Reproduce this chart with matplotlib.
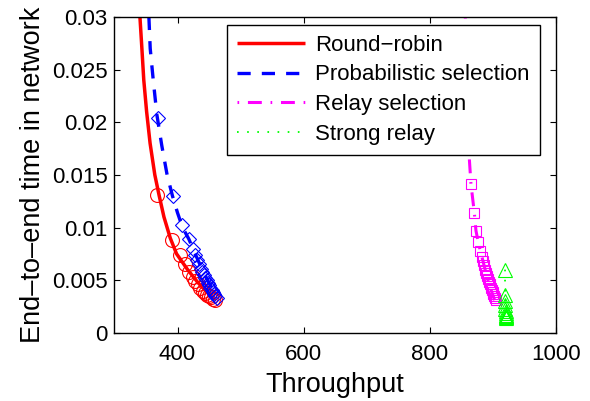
import matplotlib
matplotlib.use("Agg")
import matplotlib.pyplot as plt

plt.rcParams['font.family'] = ['Liberation Sans', 'DejaVu Sans']
plt.rcParams['lines.scale_dashes'] = False

# Round-robin
rr_line_x = [340.4, 343.5, 346.5, 351.0, 356.5, 364.0, 371.0, 378.5, 388.5, 398.5, 416.0, 432.0, 446.0, 459.0]
rr_line_y = [0.0300, 0.0270, 0.0240, 0.0210, 0.0180, 0.0150, 0.0130, 0.0110, 0.0090, 0.0075, 0.0060, 0.0048, 0.0039, 0.0031]
rr_mark_x = [368.0, 390.5, 403.7, 411.6, 418.5, 423.8, 428.0, 432.0, 436.0, 440.0, 444.0, 447.0, 450.0, 453.0, 456.0, 459.0]
rr_mark_y = [0.0131, 0.0088, 0.0074, 0.0065, 0.0058, 0.0053, 0.0049, 0.0046, 0.0043, 0.0040, 0.0038, 0.0036, 0.0035, 0.0034, 0.0032, 0.0031]

# Probabilistic selection
ps_line_x = [354.6, 356.7, 361.5, 367.3, 375.0, 383.5, 392.0, 400.0, 408.0, 418.0, 428.0, 440.0, 452.0, 462.0]
ps_line_y = [0.0300, 0.0270, 0.0240, 0.0207, 0.0178, 0.0150, 0.0130, 0.0114, 0.0100, 0.0089, 0.0075, 0.0059, 0.0045, 0.0033]
ps_mark_x = [369.4, 392.1, 406.4, 418.5, 423.8, 428.0, 431.2, 434.0, 437.0, 439.5, 442.0, 444.0, 446.0,
             448.0, 450.0, 452.0, 454.0, 456.0, 458.0, 460.0, 462.0]
ps_mark_y = [0.0204, 0.0130, 0.01025, 0.0089, 0.0080, 0.0074, 0.0069, 0.0065, 0.0061, 0.0058, 0.0055, 0.0052,
             0.0050, 0.0047, 0.0045, 0.0043, 0.0041, 0.0039, 0.0037, 0.0035, 0.0033]

# Relay selection
rs_line_x = [856.5, 860.0, 863.0, 865.5, 870.8, 873.4, 877.0, 880.3, 884.6, 890.0, 896.0, 903.0]
rs_line_y = [0.0300, 0.0220, 0.0164, 0.0141, 0.0114, 0.0097, 0.0086, 0.0078, 0.0068, 0.0055, 0.0043, 0.0031]
rs_mark_x = [865.5, 870.8, 873.4, 877.1, 880.3, 882.4, 884.6, 886.5, 888.3, 890.0, 891.6, 893.2, 894.7,
             896.1, 897.5, 898.8, 900.0, 901.2, 902.3, 903.4, 904.4]
rs_mark_y = [0.0141, 0.0114, 0.0097, 0.0086, 0.0078, 0.0072, 0.0068, 0.0064, 0.0060, 0.0057, 0.0054, 0.0051,
             0.0048, 0.0046, 0.0043, 0.0041, 0.0039, 0.0037, 0.0035, 0.0033, 0.0031]

# Strong relay
sr_x = [919.5, 919.5, 920.0, 920.0, 920.2, 920.3, 920.4, 920.5, 920.6, 920.7, 920.8]
sr_y = [0.0060, 0.0036, 0.0030, 0.0026, 0.0023, 0.0021, 0.0019, 0.0017, 0.0016, 0.0015, 0.0014]

labels = ['Round\u2212robin', 'Probabilistic selection', 'Relay selection', 'Strong relay']
xticks = [400, 600, 800, 1000]
yticks = [0, 0.005, 0.01, 0.015, 0.02, 0.025, 0.03]
ytick_labels = ['0', '0.005', '0.01', '0.015', '0.02', '0.025', '0.03']

fig = plt.figure(figsize=(5.9, 4.01), dpi=100)
ax = fig.add_axes([0.194, 0.170, 0.748, 0.788])

red, blue, mag, green = (1, 0, 0), (0, 0, 1), (1, 0, 1), (0, 1, 0)

l1, = ax.plot(rr_line_x, rr_line_y, color=red, lw=2.5, solid_capstyle='butt', solid_joinstyle='round')
ax.plot(rr_mark_x, rr_mark_y, ls='none', marker='o', ms=10, mfc='none', mec=red, mew=0.8)

l2, = ax.plot(ps_line_x, ps_line_y, color=blue, lw=2.4)
l2.set_dashes((9.5, 8))
ax.plot(ps_mark_x, ps_mark_y, ls='none', marker='D', ms=7, mfc='none', mec=blue, mew=0.8)

l3, = ax.plot(rs_line_x, rs_line_y, color=mag, lw=2.2)
l3.set_dashes((1.2, 6.3, 10, 6.3))
ax.plot(rs_mark_x, rs_mark_y, ls='none', marker='s', ms=7.8, mfc='none', mec=mag, mew=0.8)

l4, = ax.plot(sr_x, sr_y, color=green, lw=1.3)
l4.set_dashes((1.2, 6.1))
ax.plot(sr_x, sr_y, ls='none', marker='^', ms=10.5, mfc='none', mec=green, mew=0.8)

ax.set_xlim(300, 1000)
ax.set_ylim(0, 0.03)
ax.set_xticks(xticks)
ax.set_yticks(yticks)
ax.set_yticklabels(ytick_labels)
ax.tick_params(direction='in', length=4, width=0.8, top=True, right=True, labelsize=16)
ax.tick_params(axis='x', pad=8)
ax.tick_params(axis='y', pad=5)
for s in ax.spines.values():
    s.set_linewidth(1.0)

ax.set_xlabel('Throughput', fontsize=19.5, labelpad=5)
ax.set_ylabel('End\u2013to\u2013end time in network', fontsize=19.5, labelpad=4)

leg = ax.legend([l1, l2, l3, l4], labels, loc='upper left', bbox_to_anchor=(0.254, 0.975),
                fontsize=16, frameon=True, fancybox=False, edgecolor='black', framealpha=1,
                handlelength=3.1, handletextpad=0.45, labelspacing=0.39, borderpad=0.45, borderaxespad=0)
leg.get_frame().set_linewidth(1.0)

fig.savefig('out.png', dpi=100)
